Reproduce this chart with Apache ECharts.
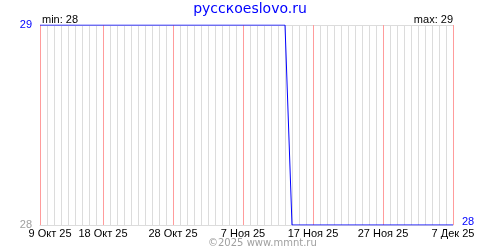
<!DOCTYPE html>
<html><head><meta charset="utf-8">
<script src="https://cdn.jsdelivr.net/npm/echarts@6/dist/echarts.min.js"></script>
<style>html,body{margin:0;padding:0;background:#fff}#c{width:500px;height:250px}</style>
</head><body><div id="c"></div>
<script>
const startDate = [2025, 10, 9];
const dayCount = 60;
const monthNames = ['Янв','Фев','Мар','Апр','Май','Июн','Июл','Авг','Сен','Окт','Ноя','Дек'];
const tickIndices = [0, 9, 19, 29, 39, 49, 59];
const values = [
  29,29,29,29,29,29,29,29,29,29,29,29,29,29,29,29,29,29,29,29,29,29,29,29,29,29,29,29,29,29,29,29,29,29,29,29,
  28,28,28,28,28,28,28,28,28,28,28,28,28,28,28,28,28,28,28,28,28,28,28,28
];
const yTicks = [28, 29];
const titleText = 'русскоеslovo.ru';
const minText = 'min: 28';
const maxText = 'max: 29';
const copyText = '©2025 www.mmnt.ru';

const categories = [];
for (let i = 0; i < dayCount; i++) {
  const d = new Date(startDate[0], startDate[1] - 1, startDate[2] + i);
  categories.push(d.getDate() + ' ' + monthNames[d.getMonth()] + ' ' + String(d.getFullYear()).slice(2));
}
const FONT = 'DejaVu Sans';
const FONT2 = 'Liberation Sans';
const chart = echarts.init(document.getElementById('c'), null, {renderer: 'canvas'});
chart.setOption({
  animation: false,
  title: [
    {text: titleText, left: 'center', top: 2, padding: 0, textStyle: {color: '#0000ff', fontSize: 14, fontWeight: 'normal', fontFamily: FONT}},
    {text: minText, left: 42, top: 14, padding: 0, textStyle: {color: '#000', fontSize: 11, fontWeight: 'normal', fontFamily: FONT2}},
    {text: maxText, right: 47, top: 14, padding: 0, textStyle: {color: '#000', fontSize: 11, fontWeight: 'normal', fontFamily: FONT2}},
    {text: copyText, left: 208, top: 238, padding: 0, textStyle: {color: '#a0a0a0', fontSize: 10, fontWeight: 'normal', fontFamily: FONT}}
  ],
  grid: {left: 40, right: 47, top: 25, bottom: 25},
  xAxis: {type: 'category', data: categories, boundaryGap: false,
     axisLine: {show: true, lineStyle: {color: '#dcdcdc'}}, axisTick: {show: false},
     axisLabel: {show: false},
     splitLine: {show: true, interval: (i) => !tickIndices.includes(i), lineStyle: {color: '#dcdcdc', width: 1}}},
  yAxis: {type: 'value', min: yTicks[0], max: yTicks[1], interval: 1,
     axisLine: {show: false}, axisTick: {show: false},
     axisLabel: {color: (v) => Number(v) === yTicks[1] ? '#0000ff' : '#a0a0a0', fontSize: 11, fontFamily: FONT2, margin: 8},
     splitLine: {show: true, lineStyle: {color: '#dcdcdc', width: 1}}},
  series: [
    {type: 'line', data: values, z: 10, showSymbol: false, symbol: 'none', silent: true,
     lineStyle: {opacity: 0},
     markLine: {silent: true, symbol: ['none', 'none'], animation: false, z: 10,
       label: {show: true, position: 'start', formatter: '{b}', color: '#000', fontSize: 11, fontFamily: FONT2, distance: 3},
       lineStyle: {color: '#ff9c9c', width: 1, type: 'solid'},
       data: tickIndices.map((i, k) => k === 0
         ? {xAxis: categories[i], name: categories[i], label: {offset: [10, 0]}}
         : {xAxis: categories[i], name: categories[i]})}},
    {type: 'line', data: values, z: 11, showSymbol: false, symbol: 'none',
     lineStyle: {color: '#0000ff', width: 1},
     endLabel: {show: true, formatter: (p) => String(p.value), color: '#0000ff', fontSize: 11, fontFamily: FONT2, distance: 9, offset: [0, -3]}}
  ]
});
</script></body></html>
